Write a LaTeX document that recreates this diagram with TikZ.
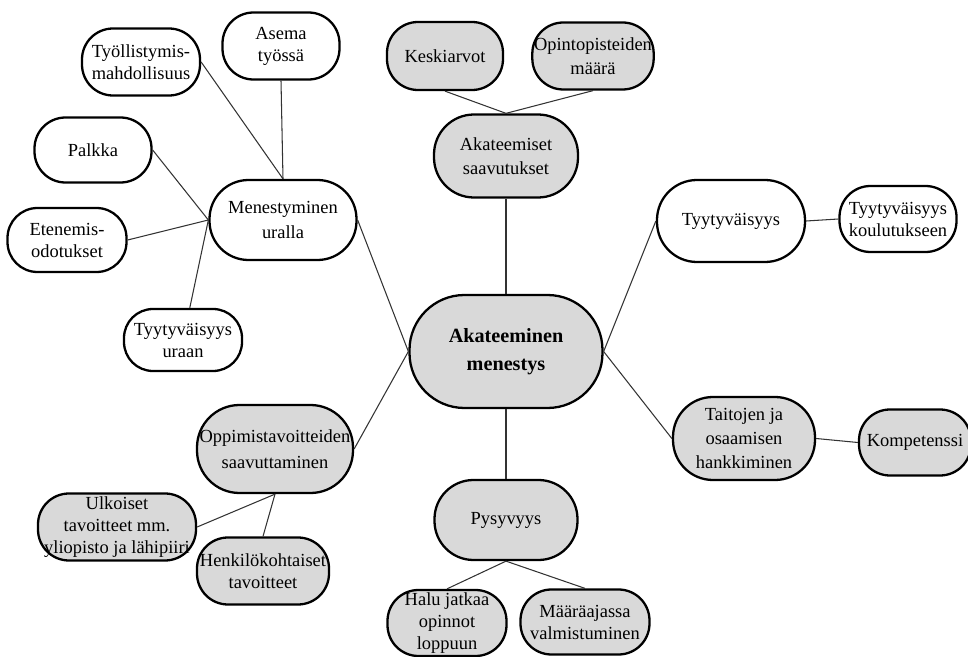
\documentclass[tikz,border=0pt]{standalone}
\usepackage{fontspec}
\setmainfont{Liberation Serif}
\usepackage{xcolor}
\usetikzlibrary{positioning}
\definecolor{bubblegrey}{HTML}{D9D9D9}
\definecolor{linkgrey}{HTML}{333333}

\begin{document}
\begin{tikzpicture}[
    bubble/.style={draw=black, line width=1.3pt, fill=white, rectangle,
      rounded corners=0.62cm, align=center, inner sep=1pt,
      font=\fontsize{10.5}{12.5}\selectfont},
    greybubble/.style={bubble, fill=bubblegrey},
    link/.style={draw=linkgrey, line width=0.6pt}
  ]
  \useasboundingbox (0,0) rectangle (19.36,-13.14);

  % career branch
  \node[bubble, minimum width=2.34cm, minimum height=1.34cm] (asema) at (5.62,-0.92) {Asema\\työssä};
  \node[bubble, minimum width=2.36cm, minimum height=1.34cm] (tyollis) at (2.82,-1.24) {Työllistymis-\\mahdollisuus};
  \node[bubble, minimum width=2.34cm, minimum height=1.30cm] (palkka) at (1.86,-3.00) {Palkka};
  \node[bubble, minimum width=2.94cm, minimum height=1.60cm, rounded corners=0.78cm,
    font=\fontsize{10.5}{14}\selectfont] (uralla) at (5.66,-4.40) {Menestyminen\\uralla};
  \node[bubble, minimum width=2.38cm, minimum height=1.28cm, rounded corners=0.6cm] (etenemis) at (1.34,-4.80) {Etenemis-\\odotukset};
  \node[bubble, minimum width=2.36cm, minimum height=1.24cm, rounded corners=0.58cm] (tyyura) at (3.66,-6.80) {Tyytyväisyys\\uraan};

  % achievements branch
  \node[greybubble, minimum width=2.32cm, minimum height=1.36cm] (keski) at (8.90,-1.12) {Keskiarvot};
  \node[greybubble, minimum width=2.36cm, minimum height=1.34cm,
    font=\fontsize{10.5}{14}\selectfont] (opinto) at (11.86,-1.12) {Opintopisteiden\\määrä};
  \node[greybubble, minimum width=2.88cm, minimum height=1.66cm, rounded corners=0.8cm,
    font=\fontsize{10.5}{14}\selectfont] (saavut) at (10.12,-3.12) {Akateemiset\\saavutukset};

  % centre
  \node[greybubble, minimum width=3.86cm, minimum height=2.26cm, rounded corners=1.1cm,
    font=\fontsize{11.5}{16}\selectfont\bfseries] (main) at (10.12,-7.03) {Akateeminen\\menestys};

  % satisfaction and skills
  \node[bubble, minimum width=2.96cm, minimum height=1.64cm, rounded corners=0.8cm] (tyyt) at (14.62,-4.42) {Tyytyväisyys};
  \node[bubble, minimum width=2.34cm, minimum height=1.32cm] (tyykoul) at (17.96,-4.38) {Tyytyväisyys\\koulutukseen};
  \node[greybubble, minimum width=2.84cm, minimum height=1.66cm, rounded corners=0.8cm,
    font=\fontsize{10.5}{13.5}\selectfont] (taidot) at (14.88,-8.77) {Taitojen ja\\osaamisen\\hankkiminen};
  \node[greybubble, minimum width=2.24cm, minimum height=1.32cm] (kompet) at (18.30,-8.85) {Kompetenssi};

  % goals branch
  \node[greybubble, minimum width=3.12cm, minimum height=1.76cm, rounded corners=0.85cm,
    font=\fontsize{10.5}{15}\selectfont] (oppim) at (5.50,-8.98) {Oppimistavoitteiden\\saavuttaminen};
  \node[greybubble, minimum width=3.16cm, minimum height=1.34cm] (ulkoiset) at (2.34,-10.54) {Ulkoiset\\tavoitteet mm.\\yliopisto ja lähipiiri};
  \node[greybubble, minimum width=2.64cm, minimum height=1.34cm] (henk) at (5.26,-11.42) {Henkilökohtaiset\\tavoitteet};

  % persistence branch
  \node[greybubble, minimum width=2.86cm, minimum height=1.60cm, rounded corners=0.78cm] (pysyv) at (10.12,-10.40) {Pysyvyys};
  \node[greybubble, minimum width=2.38cm, minimum height=1.32cm] (halu) at (8.94,-12.46) {Halu jatkaa\\opinnot\\loppuun};
  \node[greybubble, minimum width=2.58cm, minimum height=1.30cm] (maara) at (11.70,-12.44) {Määräajassa\\valmistuminen};

  \draw[link] (asema.south) -- (uralla.north);
  \draw[link] (tyollis.east) -- (uralla.north);
  \draw[link] (palkka.east) -- (uralla.west);
  \draw[link] (etenemis.east) -- (uralla.west);
  \draw[link] (tyyura) -- (uralla.west);
  \draw[link] (uralla.east) -- (main.west);
  \draw[link] (keski.south) -- (saavut.north);
  \draw[link] (opinto.south) -- (saavut.north);
  \draw[link] (saavut.south) -- (main.north);
  \draw[link] (main.east) -- (tyyt.west);
  \draw[link] (tyyt.east) -- (tyykoul.west);
  \draw[link] (main.east) -- (taidot.west);
  \draw[link] (taidot.east) -- (kompet.west);
  \draw[link] (main.west) -- (oppim.east);
  \draw[link] (oppim.south) -- (ulkoiset.east);
  \draw[link] (oppim.south) -- (henk.north);
  \draw[link] (main.south) -- (pysyv.north);
  \draw[link] (pysyv.south) -- (halu.north);
  \draw[link] (pysyv.south) -- (maara.north);
\end{tikzpicture}
\end{document}
